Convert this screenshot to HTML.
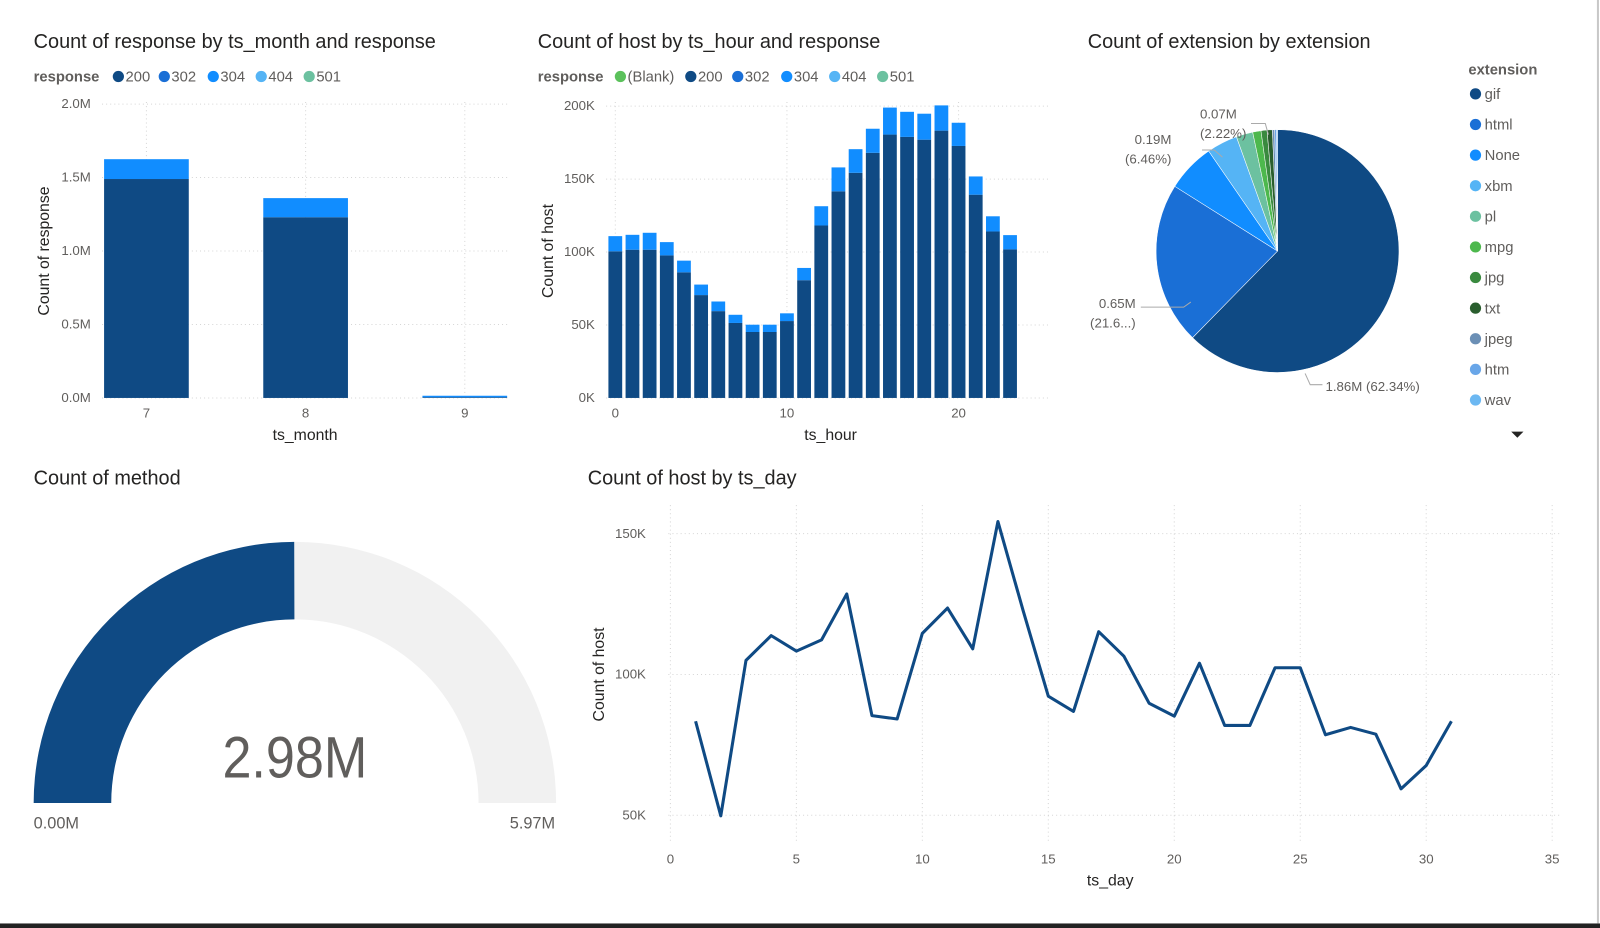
<!DOCTYPE html>
<html><head><meta charset="utf-8"><style>
html,body{margin:0;padding:0;background:#fff;width:1600px;height:928px;overflow:hidden}
svg{display:block;font-family:"Liberation Sans",sans-serif}
.t{font-size:19.5px;fill:#252423}
.tk{font-size:13px;fill:#605e5c}
.ax{font-size:15.5px;fill:#252423}
.lg{font-size:14.5px;fill:#605e5c}
.lgb{font-size:14.5px;fill:#605e5c;font-weight:bold}
.grid{stroke:#d6d6d6;stroke-dasharray:1,3;stroke-width:1}
</style></head><body>
<svg id="s" width="1600" height="928" viewBox="0 0 1600 928">
<g transform="scale(1.0204)">
<rect x="0" y="905" width="1600" height="5" fill="#222"/>
<rect x="1565" y="0" width="2" height="905" fill="#c8c8c8"/>

<g>
<text class="t" x="33" y="47">Count of response by ts_month and response</text>
<g>
<text class="lgb" x="33" y="80">response</text>
<circle cx="116" cy="75" r="5.5" fill="#0f4a84"/><text class="lg" x="123" y="80">200</text>
<circle cx="161" cy="75" r="5.5" fill="#1a6fd6"/><text class="lg" x="168" y="80">302</text>
<circle cx="209" cy="75" r="5.5" fill="#118dff"/><text class="lg" x="216" y="80">304</text>
<circle cx="256" cy="75" r="5.5" fill="#55b4f5"/><text class="lg" x="263" y="80">404</text>
<circle cx="303" cy="75" r="5.5" fill="#6cc1a0"/><text class="lg" x="310" y="80">501</text>
</g>
<g id="c1"></g>
<text class="ax" x="299" y="431" text-anchor="middle">ts_month</text>
<text class="ax" transform="translate(48,246) rotate(-90)" text-anchor="middle">Count of response</text>
</g>

<g>
<text class="t" x="527" y="47">Count of host by ts_hour and response</text>
<g>
<text class="lgb" x="527" y="80">response</text>
<circle cx="608" cy="75" r="5.5" fill="#5bc15b"/><text class="lg" x="615" y="80">(Blank)</text>
<circle cx="677" cy="75" r="5.5" fill="#0f4a84"/><text class="lg" x="684" y="80">200</text>
<circle cx="723" cy="75" r="5.5" fill="#1a6fd6"/><text class="lg" x="730" y="80">302</text>
<circle cx="771" cy="75" r="5.5" fill="#118dff"/><text class="lg" x="778" y="80">304</text>
<circle cx="818" cy="75" r="5.5" fill="#55b4f5"/><text class="lg" x="825" y="80">404</text>
<circle cx="865" cy="75" r="5.5" fill="#6cc1a0"/><text class="lg" x="872" y="80">501</text>
</g>
<g id="c2"></g>
<text class="ax" x="814" y="431" text-anchor="middle">ts_hour</text>
<text class="ax" transform="translate(542,246) rotate(-90)" text-anchor="middle">Count of host</text>
</g>

<g>
<text class="t" x="1066" y="47">Count of extension by extension</text>
<g id="c3"></g>
<text class="lgb" x="1439" y="73">extension</text>
<g id="c3l"></g>
<path d="M1481,423 L1493,423 L1487,429 Z" fill="#252423"/>
</g>

<g>
<text class="t" x="33" y="475">Count of method</text>
<g id="c4"></g>
<text x="218" y="762" textLength="142" lengthAdjust="spacingAndGlyphs" font-size="57" fill="#605e5c">2.98M</text>
<text x="33" y="812" font-size="16" fill="#605e5c">0.00M</text>
<text x="544" y="812" font-size="16" fill="#605e5c" text-anchor="end">5.97M</text>
</g>

<g>
<text class="t" x="576" y="475">Count of host by ts_day</text>
<g id="c5"></g>
<text class="ax" x="1088" y="868" text-anchor="middle">ts_day</text>
<text class="ax" transform="translate(592,661) rotate(-90)" text-anchor="middle">Count of host</text>
</g>
</g>
</svg>
<script>
const NS='http://www.w3.org/2000/svg';
function mk(p,tag,a){const e=document.createElementNS(NS,tag);for(const k in a)e.setAttribute(k,a[k]);p.appendChild(e);return e;}

const months=['7','8','9'];
const month200=[1.49,1.23,0.005];
const month304=[0.135,0.13,0.01];
const monthTicks=[0,0.5,1.0,1.5,2.0];

const hours=[0,1,2,3,4,5,6,7,8,9,10,11,12,13,14,15,16,17,18,19,20,21,22,23];
const hour200=[100.5,101.6,101.6,97.7,86.1,70.5,59.5,51.4,45.2,45.2,52.7,80.7,118.2,141.6,154.3,168,180.5,178.9,177,183.2,172.7,139.3,114.1,101.8];
const hour304=[10.4,10.2,11.6,9.1,8,7.2,6.6,5.6,5,5,5.3,8.4,13.2,16.4,16.2,16.5,18.5,17.2,17.8,17.3,15.9,12.5,10.4,9.8];
const hourTicks=[0,50,100,150,200];
const hourXTicks=[0,10,20];

const extNames=['gif','html','None','xbm','pl','mpg','jpg','txt','jpeg','htm','wav'];
const extShare=[62.34,21.6,6.46,4.1,2.22,1.1,0.8,0.7,0.3,0.25,0.13];
const extColors=['#0f4a84','#1a6fd6','#118dff','#55b4f5','#6cc1a0','#4db84d','#3a8a3f','#2a5e2e','#6b8fb5','#69a6e8','#6cb8f2'];

const gaugeValue=[2.98];
const gaugeMax=[5.97];

const days=[1,2,3,4,5,6,7,8,9,10,11,12,13,14,15,16,17,18,19,20,21,22,23,24,25,26,27,28,29,30,31];
const dayHosts=[83.4,49.8,105,113.8,108.3,112.3,128.6,85.4,84.2,114.6,123.6,109.1,154.3,122.7,92.3,86.9,115.2,106.5,89.8,85.2,104,81.9,81.9,102.4,102.4,78.6,81.2,78.8,59.4,67.7,83.4];
const dayYTicks=[50,100,150];
const dayXTicks=[0,5,10,15,20,25,30,35];

(function(){
const g=document.getElementById('c1');
const y=v=>390-v*144, x0=102, step=156, bw=83;
monthTicks.forEach(t=>{
 const l=mk(g,'line',{x1:100,x2:497,y1:y(t),y2:y(t),class:'grid'});
 
 const tx=mk(g,'text',{x:89,y:y(t)+4,'text-anchor':'end',class:'tk'});tx.textContent=t.toFixed(1)+'M';
 
});
months.forEach((m,i)=>{
 const cx=x0+i*step+bw/2;
 const vl=mk(g,'line',{x1:cx,x2:cx,y1:100,y2:390,class:'grid'});
 
 const b=mk(g,'rect',{x:x0+i*step,y:y(month200[i]),width:bw,height:month200[i]*144,fill:'#0f4a84'});
 
 const t=month200[i]+month304[i];
 const b2=mk(g,'rect',{x:x0+i*step,y:y(t),width:bw,height:month304[i]*144,fill:'#118dff'});
 
 const tx=mk(g,'text',{x:cx,y:409,'text-anchor':'middle',class:'tk'});tx.textContent=m;
 
});
})();

(function(){
const g=document.getElementById('c2');
const y=v=>390-v*1.43, x=h=>603+h*16.82, bw=13.5;
hourTicks.forEach(t=>{
 const l=mk(g,'line',{x1:594,x2:1030,y1:y(t),y2:y(t),class:'grid'});
 
 const tx=mk(g,'text',{x:583,y:y(t)+4,'text-anchor':'end',class:'tk'});tx.textContent=t+'K';
 
});
hourXTicks.forEach(h=>{
 const l=mk(g,'line',{x1:x(h),x2:x(h),y1:100,y2:390,class:'grid'});
 
 const tx=mk(g,'text',{x:x(h),y:409,'text-anchor':'middle',class:'tk'});tx.textContent=h;
 
});
hours.forEach((h,i)=>{
 const b=mk(g,'rect',{x:x(h)-bw/2,y:y(hour200[i]),width:bw,height:hour200[i]*1.43,fill:'#0f4a84'});
 
 const b2=mk(g,'rect',{x:x(h)-bw/2,y:y(hour200[i]+hour304[i]),width:bw,height:hour304[i]*1.43,fill:'#118dff'});
 
});
})();

(function(){
const g=document.getElementById('c3'),lg=document.getElementById('c3l');
const cx=1252,cy=246,r=119;
const tot=extShare.reduce((a,b)=>a+b,0);
let a0=-Math.PI/2;
extShare.forEach((s,i)=>{
 const a1=a0+s/tot*2*Math.PI;
 const large=(a1-a0)>Math.PI?1:0;
 const d=`M${cx},${cy} L${cx+r*Math.cos(a0)},${cy+r*Math.sin(a0)} A${r},${r} 0 ${large} 1 ${cx+r*Math.cos(a1)},${cy+r*Math.sin(a1)} Z`;
 const p=mk(g,'path',{d:d,fill:extColors[i],stroke:'#fff','stroke-width':0.5});
 
 a0=a1;
 const ly=92+i*30;
 const c=mk(lg,'circle',{cx:1446,cy:ly,r:5.5,fill:extColors[i]});
 
 const t=mk(lg,'text',{x:1455,y:ly+5,class:'lg'});t.textContent=extNames[i];t.setAttribute('font-size','15');
 
});
const labels=[
 {t:['1.86M (62.34%)'],x:1299,y:383,p:'M1279,366 L1284,377 L1296,377',a:'start'},
 {t:['0.65M','(21.6...)'],x:1113,y:302,p:'M1167,296 L1160,301 L1118,301',a:'end'},
 {t:['0.19M','(6.46%)'],x:1148,y:141,p:'M1198,154 L1190,147 L1178,147',a:'end'},
 {t:['0.07M','(2.22%)'],x:1176,y:116,p:'M1243,132 L1240,121 L1226,121',a:'start'}
];
labels.forEach(L=>{
 const p=mk(g,'path',{d:L.p,fill:'none',stroke:'#aaa','stroke-width':1});
 
 L.t.forEach((s,j)=>{
  const t=mk(g,'text',{x:L.x,y:L.y+j*19,class:'tk','text-anchor':L.a});t.textContent=s;
  
 });
});
})();

(function(){
const g=document.getElementById('c4');
const cx=289,cy=787,R=256,r=180;
function arc(f0,f1,col,name){
 const a0=Math.PI*(1-f0),a1=Math.PI*(1-f1);
 const P=(rad,a)=>`${cx+rad*Math.cos(a)},${cy-rad*Math.sin(a)}`;
 const d=`M${P(R,a0)} A${R},${R} 0 0 1 ${P(R,a1)} L${P(r,a1)} A${r},${r} 0 0 0 ${P(r,a0)} Z`;
 const p=mk(g,'path',{d:d,fill:col});
 
}
const f=gaugeValue[0]/gaugeMax[0];
arc(0,1,'#f1f1f1','gauge-track');
arc(0,f,'#0f4a84','gauge-fill');
})();

(function(){
const g=document.getElementById('c5');
const x=d=>657+d*24.69, y=v=>661-(v-100)*2.76;
dayYTicks.forEach(t=>{
 const l=mk(g,'line',{x1:655,x2:1530,y1:y(t),y2:y(t),class:'grid'});
 
 const tx=mk(g,'text',{x:633,y:y(t)+4,'text-anchor':'end',class:'tk'});tx.textContent=t+'K';
 
});
dayXTicks.forEach(d=>{
 const l=mk(g,'line',{x1:x(d),x2:x(d),y1:495,y2:825,class:'grid'});
 
 const tx=mk(g,'text',{x:x(d),y:846,'text-anchor':'middle',class:'tk'});tx.textContent=d;
 
});
const pts=days.map((d,i)=>x(d)+','+y(dayHosts[i])).join(' ');
const pl=mk(g,'polyline',{points:pts,fill:'none',stroke:'#0f4a84','stroke-width':3,'stroke-linejoin':'round'});


})();
</script>
</body></html>
